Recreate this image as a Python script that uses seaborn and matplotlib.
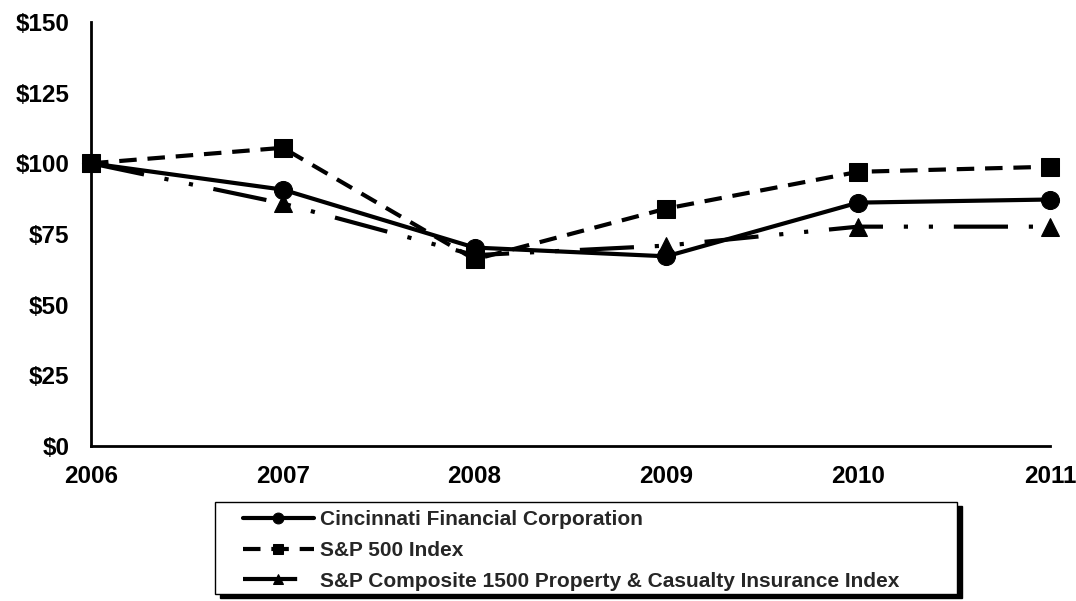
"""Five-year cumulative total return comparison (line chart)."""

import matplotlib

matplotlib.use("Agg")

import matplotlib.pyplot as plt
import seaborn as sns
from matplotlib.patches import Rectangle
from matplotlib.ticker import FuncFormatter

years = [2006, 2007, 2008, 2009, 2010, 2011]
cinf = [100, 90.7, 70.2, 67.1, 86.1, 87.2]
sp500 = [100, 105.5, 66.0, 84.0, 97.0, 98.8]
pc_index = [100, 85.8, 67.5, 70.9, 77.6, 77.6]

series = [
    ("Cincinnati Financial Corporation", cinf, "o", "-"),
    ("S&P 500 Index", sp500, "s", (0, (4.2, 2.6))),
    ("S&P Composite 1500 Property & Casualty Insurance Index", pc_index, "^",
     (0, (13, 5, 1, 5, 1, 5))),
]

sns.set_style("white")
plt.rcParams["font.family"] = ["Liberation Sans", "DejaVu Sans"]
plt.rcParams["font.weight"] = "bold"

W, H = 1076, 601
fig = plt.figure(figsize=(W / 100, H / 100), dpi=100)
ax = fig.add_axes([91 / W, 1 - 446 / H, (1050 - 91) / W, (446 - 22) / H])

for name, values, marker, style in series:
    sns.lineplot(
        x=years,
        y=values,
        ax=ax,
        color="black",
        linewidth=3,
        linestyle=style,
        marker=marker,
        markersize=13,
        markeredgecolor="black",
        label=name,
        legend=False,
        clip_on=False,
    )

ax.set_xlim(2006, 2011)
ax.set_ylim(0, 150)
ax.set_xticks(years)
ax.set_yticks(range(0, 151, 25))
ax.yaxis.set_major_formatter(FuncFormatter(lambda v, _: f"${v:.0f}"))
ax.tick_params(axis="both", direction="out", length=5.5, width=2, labelsize=17.5, colors="black")
for label in ax.get_xticklabels() + ax.get_yticklabels():
    label.set_fontweight("bold")
ax.tick_params(axis="y", pad=10)
ax.tick_params(axis="x", pad=8)

sns.despine(ax=ax)
for side in ("left", "bottom"):
    ax.spines[side].set_linewidth(2)
    ax.spines[side].set_color("black")

# legend box with a hard black drop shadow
box_x0, box_x1, box_top, box_bottom = 215, 957, 502, 594
shadow = Rectangle(
    ((box_x0 + 5) / W, 1 - (box_bottom + 4) / H),
    (box_x1 - box_x0) / W,
    (box_bottom - box_top) / H,
    transform=fig.transFigure,
    facecolor="black",
    edgecolor="black",
    zorder=1,
)
frame = Rectangle(
    (box_x0 / W, 1 - box_bottom / H),
    (box_x1 - box_x0) / W,
    (box_bottom - box_top) / H,
    transform=fig.transFigure,
    facecolor="white",
    edgecolor="black",
    linewidth=1,
    zorder=2,
)
fig.patches.extend([shadow, frame])

handles, labels = ax.get_legend_handles_labels()
legend = fig.legend(
    handles,
    labels,
    loc="center left",
    bbox_to_anchor=(243 / W, 1 - 550.5 / H),
    borderaxespad=0,
    borderpad=0,
    frameon=False,
    handlelength=3.4,
    handletextpad=0.3,
    labelspacing=0.56,
    markerscale=0.6,
    prop={"size": 15, "weight": "bold"},
)
legend.set_zorder(3)

fig.savefig("out.png", dpi=100)
plt.close(fig)
